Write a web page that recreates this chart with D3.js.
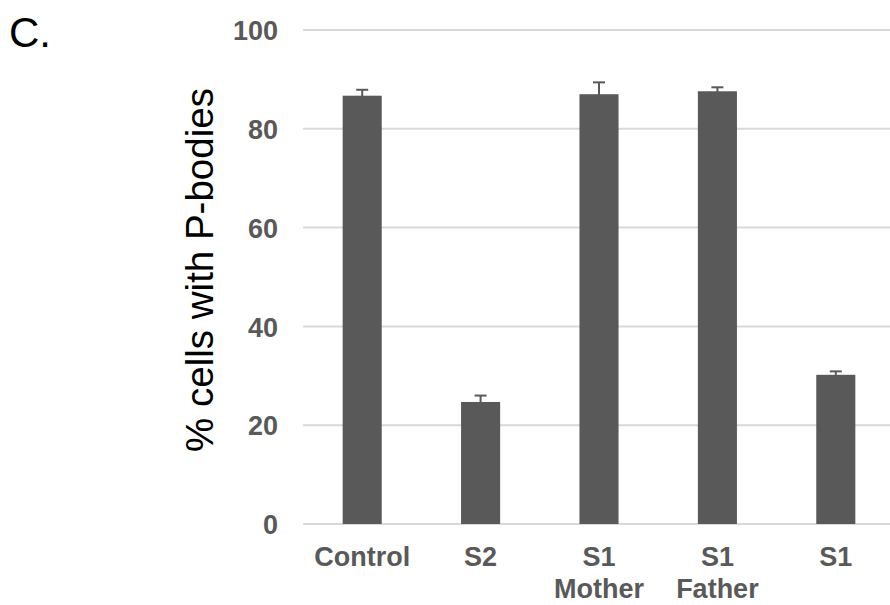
<!DOCTYPE html>
<html>
<head>
<meta charset="utf-8">
<script src="https://cdn.jsdelivr.net/npm/d3@7"></script>
<style>
  html, body { margin: 0; padding: 0; background: #fff; }
  svg { display: block; }
</style>
</head>
<body>
<script>
const categories = [["Control"], ["S2"], ["S1", "Mother"], ["S1", "Father"], ["S1"]];
const values = [86.7, 24.7, 87.0, 87.6, 30.2];
const errors = [1.2, 1.3, 2.4, 0.8, 0.7];
const yTicks = [0, 20, 40, 60, 80, 100];
const yTitle = "% cells with P-bodies";
const panelLabel = "C.";

const W = 890, H = 605;
const svg = d3.select("body").append("svg").attr("width", W).attr("height", H);

const keys = categories.map((c, i) => i);
const x = d3.scaleBand().domain(keys).range([303, 895]).paddingInner(0.67).paddingOuter(0.335);
const y = d3.scaleLinear().domain([0, 100]).range([524, 30]);

const font = "'Liberation Sans', Arial, sans-serif";
const gray = "#595959";

// gridlines
svg.append("g").selectAll("line").data(yTicks).join("line")
  .attr("x1", 303).attr("x2", W)
  .attr("y1", d => y(d)).attr("y2", d => y(d))
  .attr("stroke", "#d9d9d9").attr("stroke-width", 2);

// y axis tick labels
const yAxis = d3.axisLeft(y).tickValues(yTicks).tickSize(0).tickPadding(0);
const gy = svg.append("g").attr("transform", "translate(278,0)").call(yAxis);
gy.select(".domain").remove();
gy.selectAll("text")
  .attr("font-family", font).attr("font-size", 27).attr("font-weight", "bold")
  .attr("fill", gray).attr("dy", "0.36em");

// bars
svg.append("g").selectAll("rect").data(values).join("rect")
  .attr("x", (d, i) => x(i)).attr("width", x.bandwidth())
  .attr("y", d => y(d)).attr("height", d => y(0) - y(d))
  .attr("fill", gray);

// error bars
const eb = svg.append("g").attr("stroke", gray).attr("stroke-width", 2);
values.forEach((v, i) => {
  const cx = x(i) + x.bandwidth() / 2;
  eb.append("line").attr("x1", cx).attr("x2", cx).attr("y1", y(v - errors[i])).attr("y2", y(v + errors[i]));
  eb.append("line").attr("x1", cx - 6).attr("x2", cx + 6).attr("y1", y(v + errors[i])).attr("y2", y(v + errors[i]));
  eb.append("line").attr("x1", cx - 6).attr("x2", cx + 6).attr("y1", y(v - errors[i])).attr("y2", y(v - errors[i]));
});

// category labels
const xl = svg.append("g");
categories.forEach((lines, i) => {
  const cx = x(i) + x.bandwidth() / 2;
  const t = xl.append("text").attr("x", cx).attr("y", 566)
    .attr("text-anchor", "middle").attr("font-family", font)
    .attr("font-size", 27).attr("font-weight", "bold").attr("fill", gray);
  lines.forEach((ln, j) => {
    t.append("tspan").attr("x", cx).attr("dy", j === 0 ? 0 : 32).text(ln);
  });
});

// y title
svg.append("text")
  .attr("transform", "translate(213,270) rotate(-90)")
  .attr("text-anchor", "middle")
  .attr("font-family", font).attr("font-size", 38.5).attr("fill", "#000")
  .text(yTitle);

// panel label
svg.append("text").attr("x", 9).attr("y", 47)
  .attr("font-family", font).attr("font-size", 42).attr("fill", "#000")
  .text(panelLabel);
</script>
</body>
</html>
